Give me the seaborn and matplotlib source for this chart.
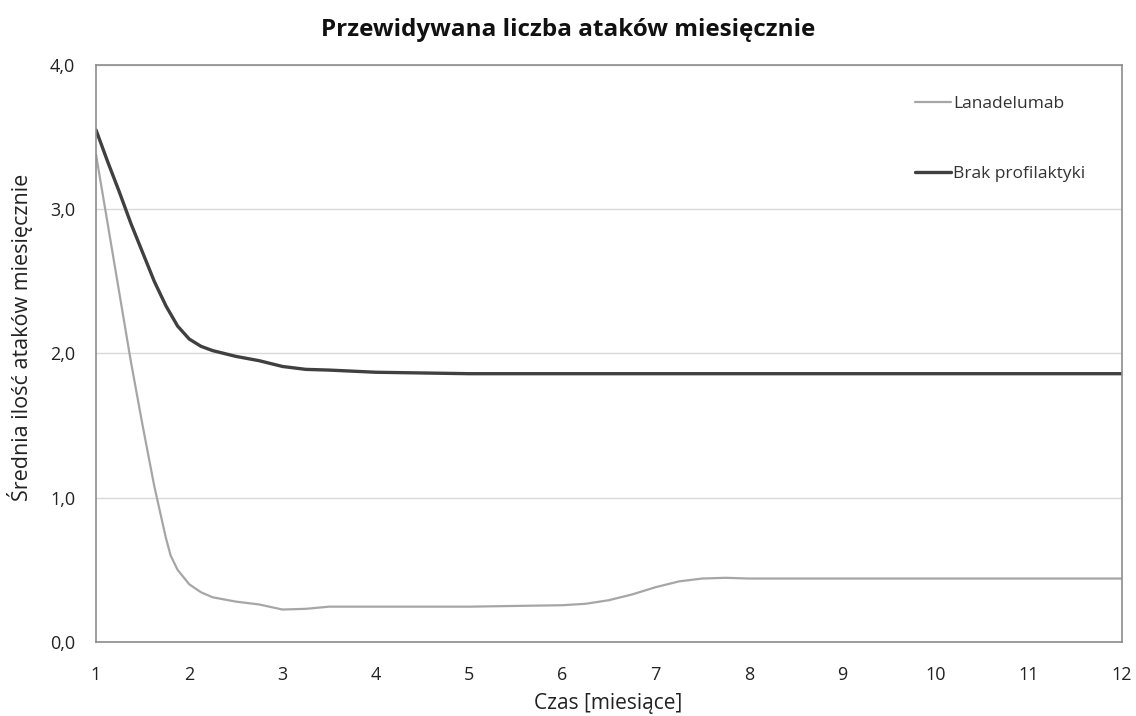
import matplotlib
matplotlib.use("Agg")
import matplotlib.pyplot as plt
import seaborn as sns
import pandas as pd
from matplotlib.ticker import FuncFormatter
from matplotlib.lines import Line2D

# --- data ---
t_lan = [1.0, 1.125, 1.25, 1.375, 1.5, 1.625, 1.75, 1.8, 1.875, 2.0, 2.125, 2.25, 2.5, 2.75,
         3.0, 3.25, 3.5, 4.0, 5.0, 6.0, 6.25, 6.5, 6.75, 7.0, 7.25, 7.5, 7.75, 8.0,
         9.0, 10.0, 11.0, 12.0]
v_lan = [3.38, 2.90, 2.42, 1.94, 1.50, 1.08, 0.72, 0.60, 0.50, 0.40, 0.345, 0.31, 0.28, 0.26,
         0.225, 0.23, 0.245, 0.245, 0.245, 0.255, 0.265, 0.29, 0.33, 0.38, 0.42, 0.44, 0.445, 0.44,
         0.44, 0.44, 0.44, 0.44]

t_brak = [1.0, 1.125, 1.25, 1.375, 1.5, 1.625, 1.75, 1.875, 2.0, 2.125, 2.25, 2.5, 2.75,
          3.0, 3.25, 3.5, 4.0, 4.5, 5.0, 6.0, 7.0, 8.0, 9.0, 10.0, 11.0, 12.0]
v_brak = [3.55, 3.33, 3.12, 2.90, 2.70, 2.50, 2.33, 2.19, 2.10, 2.05, 2.02, 1.98, 1.95,
          1.91, 1.89, 1.885, 1.87, 1.865, 1.86, 1.86, 1.86, 1.86, 1.86, 1.86, 1.86, 1.86]

series_names = ["Lanadelumab", "Brak profilaktyki"]
x_ticks = list(range(1, 13))
y_ticks = [0.0, 1.0, 2.0, 3.0, 4.0]

title = "Przewidywana liczba ataków miesięcznie"
xlabel = "Czas [miesiące]"
ylabel = "Średnia ilość ataków miesięcznie"

df = pd.concat([
    pd.DataFrame({"t": t_lan, "v": v_lan, "s": series_names[0]}),
    pd.DataFrame({"t": t_brak, "v": v_brak, "s": series_names[1]}),
])

sns.set_theme(style="white")
plt.rcParams["font.family"] = ["Open Sans", "DejaVu Sans"]

W, H = 1136, 716
fig = plt.figure(figsize=(W / 100, H / 100), dpi=100)
ax = fig.add_axes([96 / W, 1 - 642 / H, (1122 - 96) / W, (642 - 65) / H])

palette = {series_names[0]: "#a6a6a6", series_names[1]: "#404040"}
widths = [1.6, 2.4]
sns.lineplot(data=df, x="t", y="v", hue="s", palette=palette, ax=ax, legend=False,
             estimator=None, sort=True)
for line, lw in zip(ax.get_lines(), widths):
    line.set_linewidth(lw)
    line.set_solid_joinstyle("round")

ax.set_xlim(1, 12)
ax.set_ylim(0, 4)
ax.set_xticks(x_ticks)
ax.set_yticks(y_ticks)
ax.yaxis.set_major_formatter(FuncFormatter(lambda v, p: f"{v:.1f}".replace(".", ",")))
ax.tick_params(axis="x", length=0, pad=17, labelsize=13, colors="#222222")
ax.tick_params(axis="y", length=0, pad=15, labelsize=13, colors="#222222")
ax.grid(axis="y", color="#d9d9d9", linewidth=1)
ax.grid(axis="x", visible=False)
for sp in ax.spines.values():
    sp.set_color("#8c8c8c")
    sp.set_linewidth(1.2)

ax.set_xlabel(xlabel, fontsize=15, color="#222222")
ax.xaxis.set_label_coords((608 - 96) / (1122 - 96), (642 - 693) / (642 - 65))
ax.set_ylabel(ylabel, fontsize=15.5, color="#222222")
ax.yaxis.set_label_coords((33 - 96) / (1122 - 96), (642 - 337) / (642 - 65))

fig.text(568 / W, 1 - 30 / H, title, fontsize=17.5, fontweight="bold",
         ha="center", va="center", color="#111111")

handles = [Line2D([], [], color=palette[n], lw=lw) for n, lw in zip(series_names, widths)]
leg = fig.legend(handles, series_names, loc="upper left",
                 bbox_to_anchor=(915 / W, 1 - 96 / H), bbox_transform=fig.transFigure,
                 frameon=False, fontsize=12.5, labelspacing=3.1, handlelength=2.1,
                 handletextpad=0.1, borderpad=0, borderaxespad=0)
for txt in leg.get_texts():
    txt.set_color("#333333")

fig.savefig("out.png", dpi=100)
